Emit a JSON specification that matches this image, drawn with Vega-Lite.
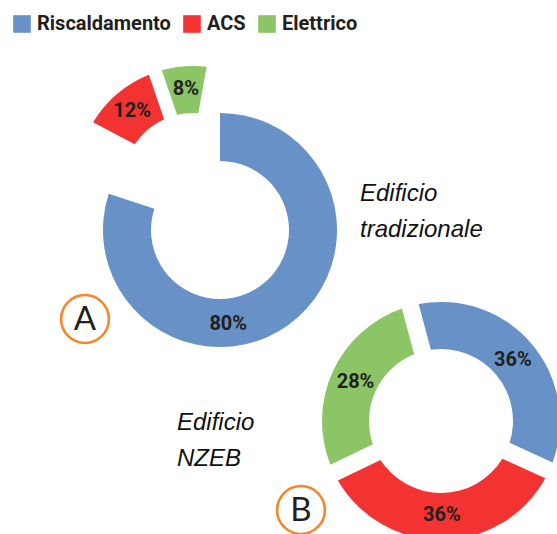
{
  "$schema": "https://vega.github.io/schema/vega-lite/v6.json",
  "width": 557,
  "height": 534,
  "padding": 0,
  "autosize": {"type": "none"},
  "background": "white",
  "config": {
    "view": {"stroke": null},
    "legend": {
      "orient": "none",
      "legendX": 12,
      "legendY": 14,
      "direction": "horizontal",
      "symbolType": "square",
      "symbolSize": 310,
      "symbolStrokeWidth": 0,
      "labelFont": "Roboto",
      "labelFontWeight": "bold",
      "labelFontSize": 20,
      "labelColor": "#231f20",
      "columnPadding": 11,
      "labelOffset": 5
    }
  },
  "data": {
    "values": [
      {"chart": "A", "cat": "Riscaldamento", "idx": 1, "share": 0.80},
      {"chart": "A", "cat": "ACS", "idx": 2, "share": 0.12},
      {"chart": "A", "cat": "Elettrico", "idx": 3, "share": 0.08},
      {"chart": "B", "cat": "Riscaldamento", "idx": 1, "share": 0.36},
      {"chart": "B", "cat": "ACS", "idx": 2, "share": 0.36},
      {"chart": "B", "cat": "Elettrico", "idx": 3, "share": 0.28}
    ]
  },
  "resolve": {"scale": {"theta": "independent"}},
  "layer": [
    {
      "transform": [{"filter": "datum.chart === 'A'"}],
      "mark": {"type": "arc", "x": 220, "y": 230, "innerRadius": 69, "outerRadius": 117},
      "encoding": {
        "theta": {"field": "share", "type": "quantitative", "stack": true, "scale": {"domain": [0, 1], "range": [0, 6.2832]}},
        "order": {"field": "idx", "type": "quantitative"},
        "color": {"field": "cat", "type": "nominal", "legend": {"title": null}, "scale": {"domain": ["Riscaldamento", "ACS", "Elettrico"], "range": ["#6891c8", "#f23331", "#8bc565"]}},
        "opacity": {"condition": {"test": "datum.cat !== 'Riscaldamento'", "value": 0}, "value": 1}
      }
    },
    {
      "transform": [{"filter": "datum.chart === 'A'"}],
      "mark": {"type": "arc", "x": 193, "y": 183, "innerRadius": 70, "outerRadius": 117, "padAngle": 0.1},
      "encoding": {
        "theta": {"field": "share", "type": "quantitative", "stack": true, "scale": {"domain": [0, 1], "range": [0.1745, 6.4577]}},
        "order": {"field": "idx", "type": "quantitative"},
        "color": {"field": "cat", "type": "nominal", "legend": {"title": null}},
        "opacity": {"condition": {"test": "datum.cat === 'Riscaldamento'", "value": 0}, "value": 1}
      }
    },
    {
      "transform": [{"filter": "datum.chart === 'B'"}],
      "mark": {"type": "arc", "x": 441, "y": 421, "innerRadius": 72, "outerRadius": 119, "padAngle": 0.125},
      "encoding": {
        "theta": {"field": "share", "type": "quantitative", "stack": true, "scale": {"domain": [0, 1], "range": [-0.2618, 6.0214]}},
        "order": {"field": "idx", "type": "quantitative"},
        "color": {"field": "cat", "type": "nominal", "legend": {"title": null}}
      }
    },
    {
      "transform": [{"filter": "datum.chart === 'A'"}],
      "mark": {"type": "text", "x": 220, "y": 230, "radius": 94, "dx": -47, "dy": 18, "font": "Roboto", "fontWeight": "bold", "fontSize": 20, "fill": "#231f20", "align": "center", "baseline": "middle"},
      "encoding": {
        "theta": {"field": "share", "type": "quantitative", "stack": true, "scale": {"domain": [0, 1], "range": [0, 6.2832]}},
        "order": {"field": "idx", "type": "quantitative"},
        "text": {"field": "share", "type": "quantitative", "format": ".0%"},
        "opacity": {"condition": {"test": "datum.cat !== 'Riscaldamento'", "value": 0}, "value": 1}
      }
    },
    {
      "transform": [{"filter": "datum.chart === 'A'"}],
      "mark": {"type": "text", "x": 193, "y": 183, "radius": 94, "font": "Roboto", "fontWeight": "bold", "fontSize": 20, "fill": "#231f20", "align": "center", "baseline": "middle"},
      "encoding": {
        "theta": {"field": "share", "type": "quantitative", "stack": true, "scale": {"domain": [0, 1], "range": [0.1745, 6.4577]}},
        "order": {"field": "idx", "type": "quantitative"},
        "text": {"field": "share", "type": "quantitative", "format": ".0%"},
        "opacity": {"condition": {"test": "datum.cat === 'Riscaldamento'", "value": 0}, "value": 1}
      }
    },
    {
      "transform": [{"filter": "datum.chart === 'B'"}],
      "mark": {"type": "text", "x": 441, "y": 421, "radius": 94, "font": "Roboto", "fontWeight": "bold", "fontSize": 20, "fill": "#231f20", "align": "center", "baseline": "middle"},
      "encoding": {
        "theta": {"field": "share", "type": "quantitative", "stack": true, "scale": {"domain": [0, 1], "range": [-0.2618, 6.0214]}},
        "order": {"field": "idx", "type": "quantitative"},
        "text": {"field": "share", "type": "quantitative", "format": ".0%"}
      }
    },
    {
      "data": {"values": [{"t": 1}]},
      "mark": {"type": "text", "x": 360, "y": 201, "text": ["Edificio", "tradizionale"], "lineHeight": 36, "font": "Liberation Sans", "fontStyle": "italic", "fontSize": 24, "fill": "#111111", "align": "left", "baseline": "alphabetic"},
      "encoding": {}
    },
    {
      "data": {"values": [{"t": 1}]},
      "mark": {"type": "text", "x": 177, "y": 430, "text": ["Edificio", "NZEB"], "lineHeight": 36, "font": "Liberation Sans", "fontStyle": "italic", "fontSize": 24, "fill": "#111111", "align": "left", "baseline": "alphabetic"},
      "encoding": {}
    },
    {
      "data": {"values": [{"t": 1}]},
      "mark": {"type": "point", "shape": "circle", "x": 85, "y": 319, "size": 2290, "filled": false, "stroke": "#f5862b", "strokeWidth": 2.6, "opacity": 1},
      "encoding": {}
    },
    {
      "data": {"values": [{"t": 1}]},
      "mark": {"type": "point", "shape": "circle", "x": 301, "y": 510, "size": 2290, "filled": false, "stroke": "#f5862b", "strokeWidth": 2.6, "opacity": 1},
      "encoding": {}
    },
    {
      "data": {"values": [{"t": 1}]},
      "mark": {"type": "text", "x": 85, "y": 320, "text": "A", "font": "Lato", "fontSize": 33, "fill": "#231f20", "align": "center", "baseline": "middle"},
      "encoding": {}
    },
    {
      "data": {"values": [{"t": 1}]},
      "mark": {"type": "text", "x": 301, "y": 511, "text": "B", "font": "Lato", "fontSize": 33, "fill": "#231f20", "align": "center", "baseline": "middle"},
      "encoding": {}
    }
  ]
}
